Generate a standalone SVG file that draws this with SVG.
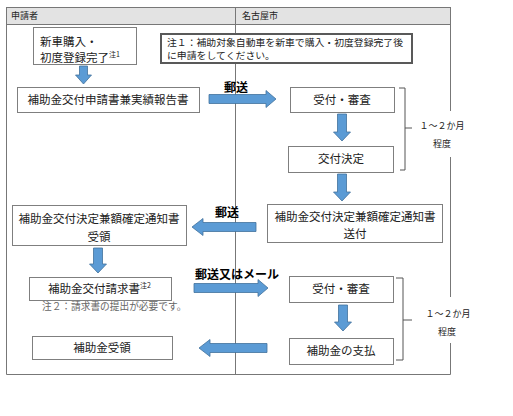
<svg xmlns="http://www.w3.org/2000/svg" width="513" height="416" viewBox="0 0 513 416">
<style>
text{font-family:"Noto Sans CJK JP","Noto Sans",sans-serif;fill:#222}
.n{fill:#fff;stroke:#7f7f7f;stroke-width:1}
.t{font-size:11.5px;text-anchor:middle}
.hd{font-size:9px}
.lb{font-size:12px;font-weight:bold;fill:#000}
.dur{font-size:9px;text-anchor:middle}
.ar{fill:#5b9bd5;stroke:#41719c;stroke-width:0.8}
.br{fill:none;stroke:#555;stroke-width:1}
.fr{fill:none;stroke:#777;stroke-width:1}
</style>
<rect width="513" height="416" fill="#fff"/>
<g id="frame">
<rect x="6.5" y="7.5" width="444" height="17" fill="#e3e3e3" stroke="#777"/>
<path class="fr" d="M6.5 24.5V374.5H450.5V343M450.5 297V157M450.5 111V7.5"/>
<path class="fr" d="M235.5 7.5V374.5"/>
<text class="hd" x="11" y="19">申請者</text>
<text class="hd" x="242" y="19">名古屋市</text>
</g>
<g id="note1">
<rect x="161" y="34" width="251" height="29" fill="#fff" stroke="#595959" stroke-width="2"/>
<text x="167" y="45.5" style="font-size:9.3px" textLength="236" lengthAdjust="spacingAndGlyphs">注１：補助対象自動車を新車で購入・初度登録完了後</text>
<text x="167" y="59.2" style="font-size:9.3px" textLength="108" lengthAdjust="spacingAndGlyphs">に申請をしてください。</text>
</g>
<g id="n-purchase">
<rect class="n" x="33.5" y="27.5" width="103" height="37"/>
<text x="40" y="46" style="font-size:11.5px">新車購入・</text>
<text x="40" y="62" style="font-size:11.5px">初度登録完了<tspan style="font-size:7px" dy="-5">注1</tspan></text>
</g>
<g id="n-apply">
<rect class="n" x="17.5" y="87.5" width="182" height="25"/>
<text class="t" x="108" y="104">補助金交付申請書兼実績報告書</text>
</g>
<g id="n-review1">
<rect class="n" x="290.5" y="87.5" width="104" height="25"/>
<text class="t" x="342" y="104">受付・審査</text>
</g>
<g id="n-decision">
<rect class="n" x="288.5" y="146.5" width="105" height="26"/>
<text class="t" x="341" y="163">交付決定</text>
</g>
<g id="n-send">
<rect class="n" x="267.5" y="204.5" width="175" height="38"/>
<text class="t" x="355" y="221">補助金交付決定兼額確定通知書</text>
<text class="t" x="355" y="238">送付</text>
</g>
<g id="n-receive">
<rect class="n" x="12.5" y="205.5" width="174" height="40"/>
<text class="t" x="99" y="223">補助金交付決定兼額確定通知書</text>
<text class="t" x="99" y="241">受領</text>
</g>
<g id="n-claim">
<rect class="n" x="29.5" y="277.5" width="142" height="23"/>
<text x="48" y="293" style="font-size:11.5px">補助金交付請求書<tspan style="font-size:7px" dy="-5">注2</tspan></text>
<text x="42" y="310" style="font-size:9.7px;fill:#666">注２：請求書の提出が必要です。</text>
</g>
<g id="n-review2">
<rect class="n" x="289.5" y="276.5" width="104" height="26"/>
<text class="t" x="341" y="293">受付・審査</text>
</g>
<g id="n-pay">
<rect class="n" x="289.5" y="338.5" width="104" height="26"/>
<text class="t" x="341" y="355">補助金の支払</text>
</g>
<g id="n-received">
<rect class="n" x="32.5" y="336.5" width="140" height="23"/>
<text class="t" x="102" y="352">補助金受領</text>
</g>
<g id="durations">
<path class="br" d="M399 88H405V128H412M405 128V170H400"/>
<text class="dur" x="442" y="129">１～２か月</text>
<text class="dur" x="442" y="147">程度</text>
<path class="br" d="M396 278H403V320H412M403 320V360H396"/>
<text class="dur" x="448" y="317">１～２か月</text>
<text class="dur" x="447" y="335">程度</text>
</g>
<g id="connectors">
<polygon class="ar" points="79.5,66 87.5,66 87.5,75 91.5,75 83.5,84 75.5,75 79.5,75"/>
<polygon class="ar" points="209,94.5 266,94.5 266,90.5 276,99 266,107.5 266,103.5 209,103.5"/>
<text class="lb" x="224" y="92">郵送</text>
<polygon class="ar" points="337.5,114 346.5,114 346.5,132 350.5,132 342,141 333.5,132 337.5,132"/>
<polygon class="ar" points="337.5,174 346.5,174 346.5,192 350.5,192 342,201 333.5,192 337.5,192"/>
<polygon class="ar" points="256,222.5 203,222.5 203,218.5 192,227 203,235.5 203,231.5 256,231.5"/>
<text class="lb" x="215" y="217">郵送</text>
<polygon class="ar" points="93.5,248 102.5,248 102.5,264 106.5,264 98,273 89.5,264 93.5,264"/>
<polygon class="ar" points="194,283.5 258,283.5 258,279.5 268,288 258,296.5 258,292.5 194,292.5"/>
<text class="lb" x="195" y="279">郵送又はメール</text>
<polygon class="ar" points="338.5,305 347.5,305 347.5,322 351.5,322 343,331 334.5,322 338.5,322"/>
<polygon class="ar" points="267,343.5 210,343.5 210,339.5 199,348 210,356.5 210,352.5 267,352.5"/>
</g>
</svg>
